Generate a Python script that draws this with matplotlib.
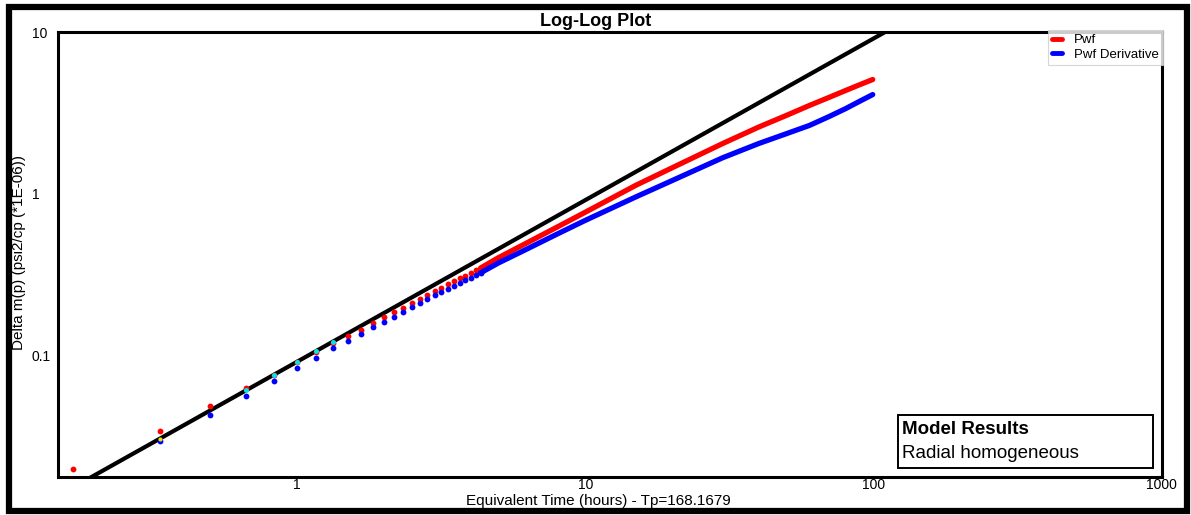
import numpy as np
import matplotlib
matplotlib.use("Agg")
import matplotlib.pyplot as plt
from matplotlib.lines import Line2D
from matplotlib.patches import Rectangle

plt.rcParams['font.family'] = ['Liberation Sans', 'DejaVu Sans']

# ---------------- data ----------------
t_early = [0.1667, 0.3333, 0.5, 0.6667, 0.8333, 1.0, 1.1667, 1.3333, 1.5, 1.6667,
           1.8333, 2.0, 2.1667, 2.3333, 2.5, 2.6667, 2.8333, 3.0, 3.1667, 3.3333,
           3.5, 3.6667, 3.8333, 4.0, 4.1667, 4.3333]
pwf_early = [0.0197, 0.0338, 0.0481, 0.0622, 0.0755, 0.0905, 0.105, 0.118, 0.131, 0.143,
             0.158, 0.171, 0.184, 0.197, 0.210, 0.223, 0.236, 0.249, 0.261, 0.274,
             0.287, 0.300, 0.311, 0.323, 0.335, 0.346]
deriv_early = [np.nan, 0.0293, 0.0428, 0.0562, 0.0693, 0.0831, 0.0962, 0.110, 0.1226, 0.135,
               0.1484, 0.1608, 0.1726, 0.1854, 0.198, 0.2108, 0.222, 0.234, 0.2455, 0.257,
               0.2686, 0.280, 0.291, 0.302, 0.313, 0.323]

t_late = [4.3333, 5, 6, 8, 10, 15, 20, 30, 40, 50, 60, 70, 80, 90, 99.5]
pwf_late = [0.346, 0.401, 0.475, 0.621, 0.766, 1.126, 1.442, 2.04, 2.58, 3.05, 3.51, 3.93, 4.34, 4.73, 5.08]
deriv_late = [0.323, 0.372, 0.436, 0.562, 0.682, 0.954, 1.202, 1.666, 2.04, 2.35, 2.64, 2.99, 3.35, 3.74, 4.10]

model_t = [0.6667, 0.8333, 1.0, 1.1667, 1.3333]
model_v = [0.0607, 0.0758, 0.091, 0.106, 0.121]
model_t2 = [0.3333]
model_v2 = [0.0303]

unit_slope_t = [0.1, 1000.0]
unit_slope_v = [0.0091, 91.0]

x_ticks = [1, 10, 100, 1000]
x_ticklabels = ["1", "10", "100", "1000"]
y_ticks = [0.1, 1, 10]
y_ticklabels = ["0.1", "1", "10"]

# ---------------- figure ----------------
W, H = 1191, 515
fig = plt.figure(figsize=(W / 100, H / 100), dpi=100)
fig.patch.set_facecolor('white')

ax = fig.add_axes([58 / W, 1 - 477 / H, (1161.5 - 58) / W, (477 - 32) / H])
ax.set_xscale('log')
ax.set_yscale('log')
ax.set_xlim(0.148, 1000)
ax.set_ylim(0.0176, 10)

ax.plot(unit_slope_t, unit_slope_v, color='black', lw=3.0, zorder=2)
ms = 4.2
ax.plot(t_early, pwf_early, 'o', color='#ff0000', ms=ms, mec='none', zorder=3)
ax.plot(t_early, deriv_early, 'o', color='#0000ff', ms=ms, mec='none', zorder=3)
ax.plot(t_late, pwf_late, '-', color='#ff0000', lw=3.8, solid_capstyle='round', zorder=3)
ax.plot(t_late, deriv_late, '-', color='#0000ff', lw=3.8, solid_capstyle='round', zorder=3)
ax.plot(model_t, model_v, 'o', color='#00e5e5', ms=3.6, mec='none', zorder=4)
ax.plot(model_t2, model_v2, 'o', color='#e5e500', ms=3.0, mec='none', zorder=4)

for s in ax.spines.values():
    s.set_linewidth(2.2)
    s.set_color('black')

ax.set_xticks(x_ticks)
ax.set_xticklabels(x_ticklabels)
ax.set_yticks(y_ticks)
ax.set_yticklabels(y_ticklabels)
ax.xaxis.set_minor_locator(matplotlib.ticker.NullLocator())
ax.yaxis.set_minor_locator(matplotlib.ticker.NullLocator())
ax.tick_params(axis='both', length=0, labelsize=10)
ax.tick_params(axis='x', pad=0.5)
ax.tick_params(axis='y', pad=19)
for lab in ax.get_yticklabels():
    lab.set_ha('left')

ax.set_xlabel("Equivalent Time (hours) - Tp=168.1679", fontsize=11)
ax.xaxis.label.set_va('center')
ax.xaxis.set_label_coords((598 - 58) / (1161.5 - 58), (477 - 501) / 445)
ax.set_ylabel("Delta m(p) (psi2/cp (*1E-06))", fontsize=11)
ax.yaxis.label.set_va('center')
ax.yaxis.set_label_coords((19 - 58) / (1161.5 - 58), (477 - 252) / 445)

# title
fig.text(0.5, 1 - 26.5 / H, "Log-Log Plot", ha='center', va='baseline',
         fontsize=13, fontweight='bold')

# legend
handles = [Line2D([], [], color='#ff0000', lw=3.5, solid_capstyle='round'),
           Line2D([], [], color='#0000ff', lw=3.5, solid_capstyle='round')]
leg = fig.legend(handles, ["Pwf", "Pwf Derivative"], loc='upper right',
                 bbox_to_anchor=(1163 / W, 1 - 30 / H), borderaxespad=0,
                 fontsize=9.5, handlelength=0.75, handletextpad=0.9,
                 labelspacing=0.2, borderpad=0.3, fancybox=False)
leg.get_frame().set_edgecolor('#cccccc')
leg.get_frame().set_linewidth(0.8)

# Model results box
fig.patches.append(Rectangle((898 / W, 1 - 468 / H), (1153 - 898) / W, (468 - 415) / H,
                             transform=fig.transFigure, facecolor='white',
                             edgecolor='black', lw=1.4, zorder=5))
fig.text(902 / W, 1 - 429 / H, "Model Results", ha='left', va='center',
         fontsize=13.5, fontweight='bold', zorder=6)
fig.text(902 / W, 1 - 453 / H, "Radial homogeneous", ha='left', va='center',
         fontsize=13.5, zorder=6)

# outer frame
fig.patches.append(Rectangle((9 / W, 1 - 511 / H), (1187 - 9) / W, (511 - 7) / H,
                             transform=fig.transFigure, facecolor='none',
                             edgecolor='black', lw=4.5, zorder=10))

fig.savefig("out.png", dpi=100)
